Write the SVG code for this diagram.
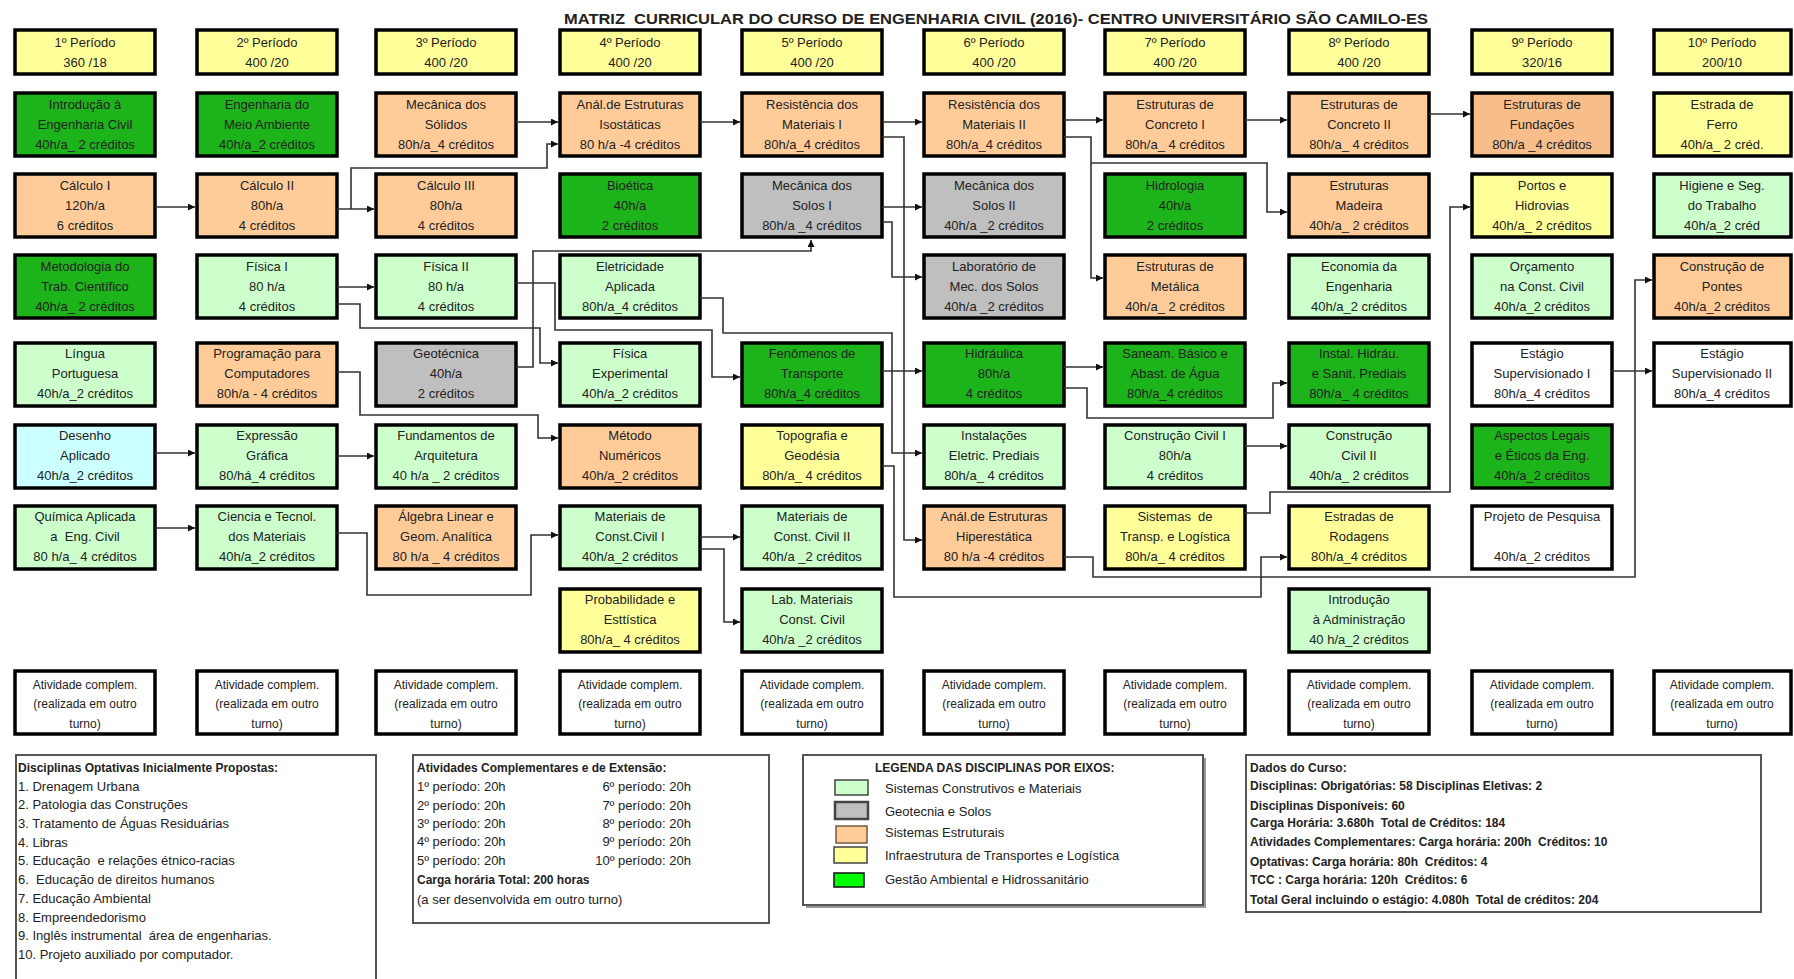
<svg xmlns="http://www.w3.org/2000/svg" width="1794" height="979" viewBox="0 0 1794 979">
<defs>
<style>
text{font-family:"Liberation Sans",Arial,sans-serif;font-size:13px;fill:#222;text-anchor:middle}
.nd rect{stroke:#000;stroke-width:3.5}
.dg rect{fill:#1DB31A}.lg rect{fill:#CCFFCC}.or rect{fill:#FFCC99}.gy rect{fill:#BFBFBF}.ye rect{fill:#FFFF99}.cy rect{fill:#CCFFFF}.wh rect{fill:#FFFFFF}.fd rect{fill:#F7BE8C}
.at text{font-size:12px}
.pn text{text-anchor:start}
.pn .bd{font-weight:bold;font-size:12px}
.pnl{fill:#fff;stroke:#555;stroke-width:2}
.sw{stroke:#444;stroke-width:1.5}
.conn path{fill:none;stroke:#333;stroke-width:1.6;marker-end:url(#ah)}
</style>
<marker id="ah" viewBox="0 0 10 10" refX="10" refY="5" markerWidth="8" markerHeight="7" markerUnits="userSpaceOnUse" orient="auto"><path d="M0,0 L10,5 L0,10 z" fill="#111"/></marker>
</defs>
<rect width="1794" height="979" fill="#fff"/>
<text x="996" y="24" style="font-weight:bold;font-size:15px" textLength="864" lengthAdjust="spacingAndGlyphs" xml:space="preserve">MATRIZ  CURRICULAR DO CURSO DE ENGENHARIA CIVIL (2016)- CENTRO UNIVERSITÁRIO SÃO CAMILO-ES</text>

<!-- Period headers -->
<g id="p1" class="nd ye"><rect x="15" y="30" width="140" height="44"/><text x="85" y="47">1º Período</text><text x="85" y="67">360 /18</text></g>
<g id="p2" class="nd ye"><rect x="197" y="30" width="140" height="44"/><text x="267" y="47">2º Período</text><text x="267" y="67">400 /20</text></g>
<g id="p3" class="nd ye"><rect x="376" y="30" width="140" height="44"/><text x="446" y="47">3º Período</text><text x="446" y="67">400 /20</text></g>
<g id="p4" class="nd ye"><rect x="560" y="30" width="140" height="44"/><text x="630" y="47">4º Período</text><text x="630" y="67">400 /20</text></g>
<g id="p5" class="nd ye"><rect x="742" y="30" width="140" height="44"/><text x="812" y="47">5º Período</text><text x="812" y="67">400 /20</text></g>
<g id="p6" class="nd ye"><rect x="924" y="30" width="140" height="44"/><text x="994" y="47">6º Período</text><text x="994" y="67">400 /20</text></g>
<g id="p7" class="nd ye"><rect x="1105" y="30" width="140" height="44"/><text x="1175" y="47">7º Período</text><text x="1175" y="67">400 /20</text></g>
<g id="p8" class="nd ye"><rect x="1289" y="30" width="140" height="44"/><text x="1359" y="47">8º Período</text><text x="1359" y="67">400 /20</text></g>
<g id="p9" class="nd ye"><rect x="1472" y="30" width="140" height="44"/><text x="1542" y="47">9º Período</text><text x="1542" y="67">320/16</text></g>
<g id="p10" class="nd ye"><rect x="1654" y="30" width="137" height="44"/><text x="1722" y="47">10º Período</text><text x="1722" y="67">200/10</text></g>

<!-- Column 1 -->
<g id="intro-eng" class="nd dg"><rect x="15" y="93" width="140" height="63"/><text x="85" y="109">Introdução à</text><text x="85" y="129">Engenharia Civil</text><text x="85" y="149">40h/a_ 2 créditos</text></g>
<g id="calc1" class="nd or"><rect x="15" y="174" width="140" height="63"/><text x="85" y="190">Cálculo I</text><text x="85" y="210">120h/a</text><text x="85" y="230">6 créditos</text></g>
<g id="metod" class="nd dg"><rect x="15" y="255" width="140" height="63"/><text x="85" y="271">Metodologia do</text><text x="85" y="291">Trab. Científico</text><text x="85" y="311">40h/a_ 2 créditos</text></g>
<g id="lingua" class="nd lg"><rect x="15" y="343" width="140" height="63"/><text x="85" y="358">Língua</text><text x="85" y="378">Portuguesa</text><text x="85" y="398">40h/a_2 créditos</text></g>
<g id="desenho" class="nd cy"><rect x="15" y="425" width="140" height="63"/><text x="85" y="440">Desenho</text><text x="85" y="460">Aplicado</text><text x="85" y="480">40h/a_2 créditos</text></g>
<g id="quimica" class="nd lg"><rect x="15" y="506" width="140" height="63"/><text x="85" y="521">Química Aplicada</text><text x="85" y="541" xml:space="preserve">a  Eng. Civil</text><text x="85" y="561">80 h/a_ 4 créditos</text></g>
<g id="ativ1" class="nd wh at"><rect x="15" y="671" width="140" height="63"/><text x="85" y="689">Atividade complem.</text><text x="85" y="708">(realizada em outro</text><text x="85" y="728">turno)</text></g>

<!-- Column 2 -->
<g id="eng-meio" class="nd dg"><rect x="197" y="93" width="140" height="63"/><text x="267" y="109">Engenharia do</text><text x="267" y="129">Meio Ambiente</text><text x="267" y="149">40h/a_2 créditos</text></g>
<g id="calc2" class="nd or"><rect x="197" y="174" width="140" height="63"/><text x="267" y="190">Cálculo II</text><text x="267" y="210">80h/a</text><text x="267" y="230">4 créditos</text></g>
<g id="fis1" class="nd lg"><rect x="197" y="255" width="140" height="63"/><text x="267" y="271">Física I</text><text x="267" y="291">80 h/a</text><text x="267" y="311">4 créditos</text></g>
<g id="prog" class="nd or"><rect x="197" y="343" width="140" height="63"/><text x="267" y="358">Programação para</text><text x="267" y="378">Computadores</text><text x="267" y="398">80h/a - 4 créditos</text></g>
<g id="expr" class="nd lg"><rect x="197" y="425" width="140" height="63"/><text x="267" y="440">Expressão</text><text x="267" y="460">Gráfica</text><text x="267" y="480">80/há_4 créditos</text></g>
<g id="cienc" class="nd lg"><rect x="197" y="506" width="140" height="63"/><text x="267" y="521">Ciencia e Tecnol.</text><text x="267" y="541">dos Materiais</text><text x="267" y="561">40h/a_2 créditos</text></g>
<g id="ativ2" class="nd wh at"><rect x="197" y="671" width="140" height="63"/><text x="267" y="689">Atividade complem.</text><text x="267" y="708">(realizada em outro</text><text x="267" y="728">turno)</text></g>

<!-- Column 3 -->
<g id="mec-sol" class="nd or"><rect x="376" y="93" width="140" height="63"/><text x="446" y="109">Mecânica dos</text><text x="446" y="129">Sólidos</text><text x="446" y="149">80h/a_4 créditos</text></g>
<g id="calc3" class="nd or"><rect x="376" y="174" width="140" height="63"/><text x="446" y="190">Cálculo III</text><text x="446" y="210">80h/a</text><text x="446" y="230">4 créditos</text></g>
<g id="fis2" class="nd lg"><rect x="376" y="255" width="140" height="63"/><text x="446" y="271">Física II</text><text x="446" y="291">80 h/a</text><text x="446" y="311">4 créditos</text></g>
<g id="geot" class="nd gy"><rect x="376" y="343" width="140" height="63"/><text x="446" y="358">Geotécnica</text><text x="446" y="378">40h/a</text><text x="446" y="398">2 créditos</text></g>
<g id="fund-arq" class="nd lg"><rect x="376" y="425" width="140" height="63"/><text x="446" y="440">Fundamentos de</text><text x="446" y="460">Arquitetura</text><text x="446" y="480">40 h/a _ 2 créditos</text></g>
<g id="algebra" class="nd or"><rect x="376" y="506" width="140" height="63"/><text x="446" y="521">Álgebra Linear e</text><text x="446" y="541">Geom. Analítica</text><text x="446" y="561">80 h/a _ 4 créditos</text></g>
<g id="ativ3" class="nd wh at"><rect x="376" y="671" width="140" height="63"/><text x="446" y="689">Atividade complem.</text><text x="446" y="708">(realizada em outro</text><text x="446" y="728">turno)</text></g>

<!-- Column 4 -->
<g id="anal-iso" class="nd or"><rect x="560" y="93" width="140" height="63"/><text x="630" y="109">Anál.de Estruturas</text><text x="630" y="129">Isostáticas</text><text x="630" y="149">80 h/a -4 créditos</text></g>
<g id="bioet" class="nd dg"><rect x="560" y="174" width="140" height="63"/><text x="630" y="190">Bioética</text><text x="630" y="210">40h/a</text><text x="630" y="230">2 créditos</text></g>
<g id="eletr" class="nd lg"><rect x="560" y="255" width="140" height="63"/><text x="630" y="271">Eletricidade</text><text x="630" y="291">Aplicada</text><text x="630" y="311">80h/a_4 créditos</text></g>
<g id="fis-exp" class="nd lg"><rect x="560" y="343" width="140" height="63"/><text x="630" y="358">Física</text><text x="630" y="378">Experimental</text><text x="630" y="398">40h/a_2 créditos</text></g>
<g id="metodo" class="nd or"><rect x="560" y="425" width="140" height="63"/><text x="630" y="440">Método</text><text x="630" y="460">Numéricos</text><text x="630" y="480">40h/a_2 créditos</text></g>
<g id="mat-cc1" class="nd lg"><rect x="560" y="506" width="140" height="63"/><text x="630" y="521">Materiais de</text><text x="630" y="541">Const.Civil I</text><text x="630" y="561">40h/a_2 créditos</text></g>
<g id="prob" class="nd ye"><rect x="560" y="589" width="140" height="63"/><text x="630" y="604">Probabilidade e</text><text x="630" y="624">Esttística</text><text x="630" y="644">80h/a_ 4 créditos</text></g>
<g id="ativ4" class="nd wh at"><rect x="560" y="671" width="140" height="63"/><text x="630" y="689">Atividade complem.</text><text x="630" y="708">(realizada em outro</text><text x="630" y="728">turno)</text></g>

<!-- Column 5 -->
<g id="res-mat1" class="nd or"><rect x="742" y="93" width="140" height="63"/><text x="812" y="109">Resistência dos</text><text x="812" y="129">Materiais I</text><text x="812" y="149">80h/a_4 créditos</text></g>
<g id="mec-solos1" class="nd gy"><rect x="742" y="174" width="140" height="63"/><text x="812" y="190">Mecânica dos</text><text x="812" y="210">Solos I</text><text x="812" y="230">80h/a _4 créditos</text></g>
<g id="fenom" class="nd dg"><rect x="742" y="343" width="140" height="63"/><text x="812" y="358">Fenômenos de</text><text x="812" y="378">Transporte</text><text x="812" y="398">80h/a_4 créditos</text></g>
<g id="topo" class="nd ye"><rect x="742" y="425" width="140" height="63"/><text x="812" y="440">Topografia e</text><text x="812" y="460">Geodésia</text><text x="812" y="480">80h/a_ 4 créditos</text></g>
<g id="mat-cc2" class="nd lg"><rect x="742" y="506" width="140" height="63"/><text x="812" y="521">Materiais de</text><text x="812" y="541">Const. Civil II</text><text x="812" y="561">40h/a _2 créditos</text></g>
<g id="lab-mat" class="nd lg"><rect x="742" y="589" width="140" height="63"/><text x="812" y="604">Lab. Materiais</text><text x="812" y="624">Const. Civil</text><text x="812" y="644">40h/a _2 créditos</text></g>
<g id="ativ5" class="nd wh at"><rect x="742" y="671" width="140" height="63"/><text x="812" y="689">Atividade complem.</text><text x="812" y="708">(realizada em outro</text><text x="812" y="728">turno)</text></g>

<!-- Column 6 -->
<g id="res-mat2" class="nd or"><rect x="924" y="93" width="140" height="63"/><text x="994" y="109">Resistência dos</text><text x="994" y="129">Materiais II</text><text x="994" y="149">80h/a_4 créditos</text></g>
<g id="mec-solos2" class="nd gy"><rect x="924" y="174" width="140" height="63"/><text x="994" y="190">Mecânica dos</text><text x="994" y="210">Solos II</text><text x="994" y="230">40h/a _2 créditos</text></g>
<g id="lab-solos" class="nd gy"><rect x="924" y="255" width="140" height="63"/><text x="994" y="271">Laboratório de</text><text x="994" y="291">Mec. dos Solos</text><text x="994" y="311">40h/a _2 créditos</text></g>
<g id="hidraul" class="nd dg"><rect x="924" y="343" width="140" height="63"/><text x="994" y="358">Hidráulica</text><text x="994" y="378">80h/a</text><text x="994" y="398">4 créditos</text></g>
<g id="inst-elet" class="nd lg"><rect x="924" y="425" width="140" height="63"/><text x="994" y="440">Instalações</text><text x="994" y="460">Eletric. Prediais</text><text x="994" y="480">80h/a_ 4 créditos</text></g>
<g id="anal-hip" class="nd or"><rect x="924" y="506" width="140" height="63"/><text x="994" y="521">Anál.de Estruturas</text><text x="994" y="541">Hiperestática</text><text x="994" y="561">80 h/a -4 créditos</text></g>
<g id="ativ6" class="nd wh at"><rect x="924" y="671" width="140" height="63"/><text x="994" y="689">Atividade complem.</text><text x="994" y="708">(realizada em outro</text><text x="994" y="728">turno)</text></g>

<!-- Column 7 -->
<g id="conc1" class="nd or"><rect x="1105" y="93" width="140" height="63"/><text x="1175" y="109">Estruturas de</text><text x="1175" y="129">Concreto I</text><text x="1175" y="149">80h/a_ 4 créditos</text></g>
<g id="hidrol" class="nd dg"><rect x="1105" y="174" width="140" height="63"/><text x="1175" y="190">Hidrologia</text><text x="1175" y="210">40h/a</text><text x="1175" y="230">2 créditos</text></g>
<g id="metal" class="nd or"><rect x="1105" y="255" width="140" height="63"/><text x="1175" y="271">Estruturas de</text><text x="1175" y="291">Metálica</text><text x="1175" y="311">40h/a_ 2 créditos</text></g>
<g id="saneam" class="nd dg"><rect x="1105" y="343" width="140" height="63"/><text x="1175" y="358">Saneam. Básico e</text><text x="1175" y="378">Abast. de Água</text><text x="1175" y="398">80h/a_4 créditos</text></g>
<g id="constr1" class="nd lg"><rect x="1105" y="425" width="140" height="63"/><text x="1175" y="440">Construção Civil I</text><text x="1175" y="460">80h/a</text><text x="1175" y="480">4 créditos</text></g>
<g id="sist-transp" class="nd ye"><rect x="1105" y="506" width="140" height="63"/><text x="1175" y="521" xml:space="preserve">Sistemas  de</text><text x="1175" y="541">Transp. e Logística</text><text x="1175" y="561">80h/a_ 4 créditos</text></g>
<g id="ativ7" class="nd wh at"><rect x="1105" y="671" width="140" height="63"/><text x="1175" y="689">Atividade complem.</text><text x="1175" y="708">(realizada em outro</text><text x="1175" y="728">turno)</text></g>

<!-- Column 8 -->
<g id="conc2" class="nd or"><rect x="1289" y="93" width="140" height="63"/><text x="1359" y="109">Estruturas de</text><text x="1359" y="129">Concreto II</text><text x="1359" y="149">80h/a_ 4 créditos</text></g>
<g id="madeira" class="nd or"><rect x="1289" y="174" width="140" height="63"/><text x="1359" y="190">Estruturas</text><text x="1359" y="210">Madeira</text><text x="1359" y="230">40h/a_ 2 créditos</text></g>
<g id="econ" class="nd lg"><rect x="1289" y="255" width="140" height="63"/><text x="1359" y="271">Economia da</text><text x="1359" y="291">Engenharia</text><text x="1359" y="311">40h/a_2 créditos</text></g>
<g id="inst-hid" class="nd dg"><rect x="1289" y="343" width="140" height="63"/><text x="1359" y="358">Instal. Hidráu.</text><text x="1359" y="378">e Sanit. Prediais</text><text x="1359" y="398">80h/a_ 4 créditos</text></g>
<g id="constr2" class="nd lg"><rect x="1289" y="425" width="140" height="63"/><text x="1359" y="440">Construção</text><text x="1359" y="460">Civil II</text><text x="1359" y="480">40h/a_ 2 créditos</text></g>
<g id="estradas" class="nd ye"><rect x="1289" y="506" width="140" height="63"/><text x="1359" y="521">Estradas de</text><text x="1359" y="541">Rodagens</text><text x="1359" y="561">80h/a_4 créditos</text></g>
<g id="intro-adm" class="nd lg"><rect x="1289" y="589" width="140" height="63"/><text x="1359" y="604">Introdução</text><text x="1359" y="624">à Administração</text><text x="1359" y="644">40 h/a_2 créditos</text></g>
<g id="ativ8" class="nd wh at"><rect x="1289" y="671" width="140" height="63"/><text x="1359" y="689">Atividade complem.</text><text x="1359" y="708">(realizada em outro</text><text x="1359" y="728">turno)</text></g>

<!-- Column 9 -->
<g id="fundacoes" class="nd fd"><rect x="1472" y="93" width="140" height="63"/><text x="1542" y="109">Estruturas de</text><text x="1542" y="129">Fundações</text><text x="1542" y="149">80h/a _4 créditos</text></g>
<g id="portos" class="nd ye"><rect x="1472" y="174" width="140" height="63"/><text x="1542" y="190">Portos e</text><text x="1542" y="210">Hidrovias</text><text x="1542" y="230">40h/a_ 2 créditos</text></g>
<g id="orcam" class="nd lg"><rect x="1472" y="255" width="140" height="63"/><text x="1542" y="271">Orçamento</text><text x="1542" y="291">na Const. Civil</text><text x="1542" y="311">40h/a_2 créditos</text></g>
<g id="estagio1" class="nd wh"><rect x="1472" y="343" width="140" height="63"/><text x="1542" y="358">Estágio</text><text x="1542" y="378">Supervisionado I</text><text x="1542" y="398">80h/a_4 créditos</text></g>
<g id="aspectos" class="nd dg"><rect x="1472" y="425" width="140" height="63"/><text x="1542" y="440">Aspectos Legais</text><text x="1542" y="460">e Éticos da Eng.</text><text x="1542" y="480">40h/a_2 créditos</text></g>
<g id="projeto" class="nd wh"><rect x="1472" y="506" width="140" height="63"/><text x="1542" y="521">Projeto de Pesquisa</text><text x="1542" y="561">40h/a_2 créditos</text></g>
<g id="ativ9" class="nd wh at"><rect x="1472" y="671" width="140" height="63"/><text x="1542" y="689">Atividade complem.</text><text x="1542" y="708">(realizada em outro</text><text x="1542" y="728">turno)</text></g>

<!-- Column 10 -->
<g id="ferro" class="nd ye"><rect x="1654" y="93" width="137" height="63"/><text x="1722" y="109">Estrada de</text><text x="1722" y="129">Ferro</text><text x="1722" y="149">40h/a_ 2 créd.</text></g>
<g id="higiene" class="nd lg"><rect x="1654" y="174" width="137" height="63"/><text x="1722" y="190">Higiene e Seg.</text><text x="1722" y="210">do Trabalho</text><text x="1722" y="230">40h/a_2 créd</text></g>
<g id="pontes" class="nd or"><rect x="1654" y="255" width="137" height="63"/><text x="1722" y="271">Construção de</text><text x="1722" y="291">Pontes</text><text x="1722" y="311">40h/a_2 créditos</text></g>
<g id="estagio2" class="nd wh"><rect x="1654" y="343" width="137" height="63"/><text x="1722" y="358">Estágio</text><text x="1722" y="378">Supervisionado II</text><text x="1722" y="398">80h/a_4 créditos</text></g>
<g id="ativ10" class="nd wh at"><rect x="1654" y="671" width="137" height="63"/><text x="1722" y="689">Atividade complem.</text><text x="1722" y="708">(realizada em outro</text><text x="1722" y="728">turno)</text></g>

<!-- Connectors -->
<g id="connectors" class="conn">
<path d="M516,122 H558"/>
<path d="M155,207 H195"/>
<path d="M337,209 H374"/>
<path d="M351,209 V168 H547 V144 H558"/>
<path d="M337,287 H374"/>
<path d="M337,304 H360 V328 H540 V363 H558"/>
<path d="M516,283 H555 V330 H712 V377 H740"/>
<path d="M516,367 H533 V251 H811 V240"/>
<path d="M337,372 H360 V415 H538 V438 H558"/>
<path d="M155,453 H195"/>
<path d="M337,456 H374"/>
<path d="M155,528 H195"/>
<path d="M337,533 H367 V595 H531 V535 H558"/>
<path d="M700,122 H740"/>
<path d="M882,122 H922"/>
<path d="M882,137 H904 V540 H922"/>
<path d="M1064,120 H1103"/>
<path d="M1064,137 H1091 V278 H1103"/>
<path d="M1091,163 H1267 V212 H1287"/>
<path d="M1245,120 H1287"/>
<path d="M1429,114 H1470"/>
<path d="M882,207 H922"/>
<path d="M882,222 H892 V277 H922"/>
<path d="M700,298 H723 V333 H892 V453 H922"/>
<path d="M882,371 H922"/>
<path d="M1064,367 H1103"/>
<path d="M1064,388 H1087 V418 H1273 V383 H1287"/>
<path d="M882,466 H894 V597 H1261 V557 H1287"/>
<path d="M1064,557 H1093 V577 H1635 V280 H1652"/>
<path d="M1245,513 H1270 V492 H1450 V207 H1470"/>
<path d="M1245,446 H1287"/>
<path d="M1612,371 H1652"/>
<path d="M700,537 H740"/>
<path d="M700,549 H724 V622 H740"/>
</g>

<!-- Panel 1: optativas -->
<g id="optativas" class="pn">
<path d="M16,985 V755 H376 V985" class="pnl"/>
<text x="18" y="772" class="bd">Disciplinas Optativas Inicialmente Propostas:</text>
<text x="18" y="791">1. Drenagem Urbana</text>
<text x="18" y="809">2. Patologia das Construções</text>
<text x="18" y="828">3. Tratamento de Águas Residuárias</text>
<text x="18" y="847">4. Libras</text>
<text x="18" y="865" xml:space="preserve">5. Educação  e relações étnico-racias</text>
<text x="18" y="884" xml:space="preserve">6.  Educação de direitos humanos</text>
<text x="18" y="903">7. Educação Ambiental</text>
<text x="18" y="922">8. Empreendedorismo</text>
<text x="18" y="940" xml:space="preserve">9. Inglês instrumental  área de engenharias.</text>
<text x="18" y="959">10. Projeto auxiliado por computador.</text>
</g>

<!-- Panel 2: atividades -->
<g id="atividades" class="pn">
<rect x="413" y="755" width="356" height="168" class="pnl"/>
<text x="417" y="772" class="bd">Atividades Complementares e de Extensão:</text>
<text x="417" y="791">1º período: 20h</text>
<text x="417" y="810">2º período: 20h</text>
<text x="417" y="828">3º período: 20h</text>
<text x="417" y="846">4º período: 20h</text>
<text x="417" y="865">5º período: 20h</text>
<text x="691" y="791" style="text-anchor:end">6º período: 20h</text>
<text x="691" y="810" style="text-anchor:end">7º período: 20h</text>
<text x="691" y="828" style="text-anchor:end">8º período: 20h</text>
<text x="691" y="846" style="text-anchor:end">9º período: 20h</text>
<text x="691" y="865" style="text-anchor:end">10º período: 20h</text>
<text x="417" y="884" class="bd">Carga horária Total: 200 horas</text>
<text x="417" y="904">(a ser desenvolvida em outro turno)</text>
</g>

<!-- Panel 3: legenda -->
<g id="legenda" class="pn">
<rect x="806" y="758" width="400" height="150" fill="#999"/>
<rect x="803" y="755" width="400" height="150" class="pnl"/>
<text x="875" y="772" class="bd">LEGENDA DAS DISCIPLINAS POR EIXOS:</text>
<rect x="835" y="780" width="33" height="15" class="sw" fill="#CCFFCC"/>
<rect x="835" y="802" width="33" height="17" class="sw" fill="#BFBFBF" style="stroke-width:2.5"/>
<rect x="836" y="826" width="31" height="17" class="sw" fill="#FFCC99" style="stroke:#7a5a3a"/>
<rect x="834" y="847" width="33" height="16" class="sw" fill="#FFFF99"/>
<rect x="834" y="873" width="30" height="14" class="sw" fill="#00FF00" style="stroke:#111"/>
<text x="885" y="793">Sistemas Construtivos e Materiais</text>
<text x="885" y="816">Geotecnia e Solos</text>
<text x="885" y="837">Sistemas Estruturais</text>
<text x="885" y="860">Infraestrutura de Transportes e Logística</text>
<text x="885" y="884">Gestão Ambiental e Hidrossanitário</text>
</g>

<!-- Panel 4: dados -->
<g id="dados" class="pn">
<rect x="1246" y="755" width="515" height="157" class="pnl"/>
<text x="1250" y="772" class="bd">Dados do Curso:</text>
<text x="1250" y="790" class="bd">Disciplinas: Obrigatórias: 58 Disciplinas Eletivas: 2</text>
<text x="1250" y="810" class="bd">Disciplinas Disponíveis: 60</text>
<text x="1250" y="827" class="bd" xml:space="preserve">Carga Horária: 3.680h  Total de Créditos: 184</text>
<text x="1250" y="846" class="bd" xml:space="preserve">Atividades Complementares: Carga horária: 200h  Créditos: 10</text>
<text x="1250" y="866" class="bd" xml:space="preserve">Optativas: Carga horária: 80h  Créditos: 4</text>
<text x="1250" y="884" class="bd" xml:space="preserve">TCC : Carga horária: 120h  Créditos: 6</text>
<text x="1250" y="904" class="bd" xml:space="preserve">Total Geral incluindo o estágio: 4.080h  Total de créditos: 204</text>
</g>
</svg>
